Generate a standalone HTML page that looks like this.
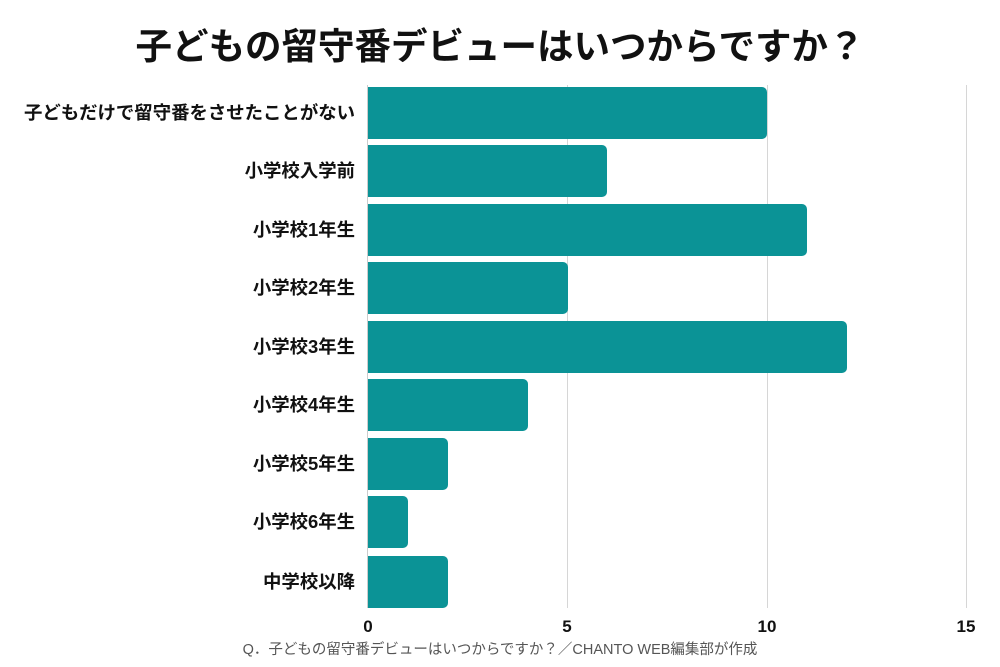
<!DOCTYPE html>
<html><head><meta charset="utf-8"><style>
html,body{margin:0;padding:0;background:#fff;}
body{width:1000px;height:667px;position:relative;overflow:hidden;font-family:"Liberation Sans","Noto Sans CJK JP",sans-serif;}
.t{position:absolute;left:0;width:1000px;top:22px;text-align:center;font-size:36.5px;font-weight:bold;color:#111;line-height:50px;}
.g{position:absolute;top:85px;height:523px;width:1px;background:#d6d6d6;}
.b{position:absolute;left:368px;height:52px;background:#0b9396;border-radius:0 5px 5px 0;}
.l{position:absolute;right:645px;font-size:18.4px;font-weight:bold;color:#111;line-height:52px;white-space:nowrap;}
.k{position:absolute;top:617px;font-size:17px;font-weight:bold;color:#111;width:40px;text-align:center;}
.c{position:absolute;top:638px;left:0;width:1000px;text-align:center;font-size:14.5px;color:#555;}
</style></head><body>
<div class="t">子どもの留守番デビューはいつからですか？</div>
<div class="g" style="left:567px"></div>
<div class="g" style="left:767px"></div>
<div class="g" style="left:966px"></div>
<div class="g" style="left:367px;background:#ccc"></div>

<div class="b" style="top:87px;width:399px"></div><div class="l" style="top:87px">子どもだけで留守番をさせたことがない</div>
<div class="b" style="top:145px;width:239px"></div><div class="l" style="top:145px">小学校入学前</div>
<div class="b" style="top:204px;width:439px"></div><div class="l" style="top:204px">小学校1年生</div>
<div class="b" style="top:262px;width:200px"></div><div class="l" style="top:262px">小学校2年生</div>
<div class="b" style="top:321px;width:479px"></div><div class="l" style="top:321px">小学校3年生</div>
<div class="b" style="top:379px;width:160px"></div><div class="l" style="top:379px">小学校4年生</div>
<div class="b" style="top:438px;width:80px"></div><div class="l" style="top:438px">小学校5年生</div>
<div class="b" style="top:496px;width:40px"></div><div class="l" style="top:496px">小学校6年生</div>
<div class="b" style="top:556px;width:80px"></div><div class="l" style="top:556px">中学校以降</div>

<div class="k" style="left:348px">0</div>
<div class="k" style="left:547px">5</div>
<div class="k" style="left:747px">10</div>
<div class="k" style="left:946px">15</div>
<div class="c">Q．子どもの留守番デビューはいつからですか？／CHANTO WEB編集部が作成</div>
</body></html>
